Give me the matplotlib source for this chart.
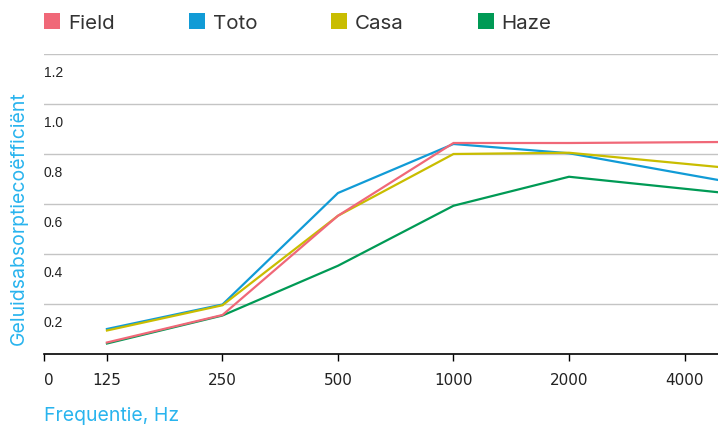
import matplotlib
matplotlib.use("Agg")
import matplotlib.pyplot as plt
from matplotlib.patches import Patch
from matplotlib.transforms import ScaledTranslation

# frequency bands (the last one lies past the right edge of the chart)
freqs = ["125", "250", "500", "1000", "2000", "4000", "8000"]
field = [0.046, 0.156, 0.553, 0.844, 0.844, 0.847, 0.850]
toto = [0.100, 0.198, 0.644, 0.840, 0.803, 0.720, 0.638]
casa = [0.094, 0.195, 0.553, 0.800, 0.805, 0.761, 0.717]
haze = [0.042, 0.154, 0.353, 0.593, 0.709, 0.661, 0.613]

series = [("Haze", haze, "#009a55"), ("Toto", toto, "#119bd6"),
          ("Casa", casa, "#c9bd00"), ("Field", field, "#f06878")]
legend_order = ["Field", "Toto", "Casa", "Haze"]
yticks = [0.2, 0.4, 0.6, 0.8, 1.0, 1.2]
blue = "#29b4ee"

fig = plt.figure(figsize=(7.18, 4.27), dpi=100)
ax = fig.add_axes([44 / 718, 72 / 427, 1 - 44 / 718, 300 / 427])

pos = list(range(1, len(freqs) + 1))
for name, vals, col in series:
    ax.plot(pos, vals, color=col, lw=1.6, label=name, solid_joinstyle="miter")

ax.set_xlim(0.455, 6.29)
ax.set_ylim(0, 1.2)

# y grid + labels sitting under each gridline
ax.set_yticks(yticks)
ax.yaxis.grid(True, color="#c4c4c4", lw=1)
ax.set_axisbelow(True)
ax.tick_params(axis="y", length=0, labelleft=False)
off = ScaledTranslation(0, -18 / 100, fig.dpi_scale_trans)
for v in yticks:
    ax.text(0.0, v, f"{v:.1f}", transform=ax.get_yaxis_transform() + off,
            ha="left", va="center", fontsize=10, family="Liberation Sans",
            color="#222222")

# x axis
ax.set_xticks([0.455] + pos[:-1])
ax.set_xticklabels(["0"] + freqs[:-1], family=["Liberation Sans Narrow", "DejaVu Sans"],
                   fontsize=11, color="#222222")
ax.get_xticklabels()[0].set_ha("left")
ax.tick_params(axis="x", length=5, width=1, pad=8, color="black")
for s in ["top", "right", "left"]:
    ax.spines[s].set_visible(False)
ax.spines["bottom"].set_color("black")
ax.spines["bottom"].set_linewidth(1.2)

fig.text(19 / 718, 1 - 218 / 427, "Geluidsabsorptiecoëfficiënt", rotation=90,
         ha="center", va="center", color=blue, fontsize=14, family="Inter")
fig.text(44 / 718, 1 - 416 / 427, "Frequentie, Hz", ha="left", va="center",
         color=blue, fontsize=14, family="Inter")

colors = {n: c for n, _, c in series}
handles = [Patch(facecolor=colors[n], edgecolor="none", label=n) for n in legend_order]
leg = fig.legend(handles=handles, loc="center left", bbox_to_anchor=(36 / 718, 1 - 23.5 / 427),
                 ncol=4, frameon=False, handlelength=0.78, handleheight=0.85,
                 handletextpad=0.38, columnspacing=3.6, borderaxespad=0,
                 prop={"family": "Inter", "size": 14.8})
for t in leg.get_texts():
    t.set_color("#333333")

fig.savefig("out.png", dpi=100)
